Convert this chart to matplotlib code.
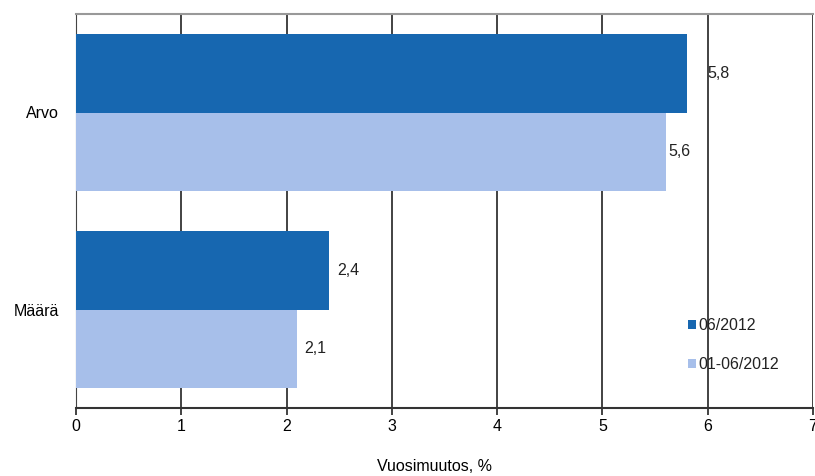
import matplotlib.pyplot as plt
import numpy as np

categories = ['Arvo', 'Määrä']
series_names = ['06/2012', '01-06/2012']
values_month = [5.8, 2.4]
values_period = [5.6, 2.1]
value_labels_month = ['5,8', '2,4']
value_labels_period = ['5,6', '2,1']
x_ticks = [0, 1, 2, 3, 4, 5, 6, 7]

dark = '#1767b0'
light = '#a7bfea'
fs = 11.5

plt.rcParams['font.family'] = ['Liberation Sans', 'DejaVu Sans']

fig = plt.figure(figsize=(8.15, 4.76), dpi=100)
ax = fig.add_axes([76 / 815, 1 - 408 / 476, (813 - 76) / 815, (408 - 14) / 476])

y = np.arange(len(categories))
h = 0.4
b1 = ax.barh(y - h / 2, values_month, height=h, color=dark, label=series_names[0], zorder=3)
b2 = ax.barh(y + h / 2, values_period, height=h, color=light, label=series_names[1], zorder=3)

# label offsets in pixels, nudged like the original
for bars, labels, offs in [(b1, value_labels_month, [21, 9]), (b2, value_labels_period, [3, 7])]:
    for bar, lab, o in zip(bars, labels, offs):
        ax.annotate(lab, (bar.get_width(), bar.get_y() + bar.get_height() / 2),
                    xytext=(o * 0.72, 0), textcoords='offset points',
                    va='center', ha='left', fontsize=fs, color='#222222', zorder=4)

ax.set_xlim(0, 7)
ax.set_ylim(len(categories) - 0.5, -0.5)
ax.set_xticks(x_ticks)
ax.set_yticks(y)
ax.set_yticklabels(categories, fontsize=fs)
ax.tick_params(axis='y', length=0, pad=12)
ax.tick_params(axis='x', length=5, width=1.2, color='#222222', labelsize=fs, pad=3)
ax.grid(axis='x', color='#222222', linewidth=1.2, zorder=1)

ax.spines['right'].set_visible(False)
ax.spines['top'].set_color('#999999')
ax.spines['top'].set_linewidth(1.5)
ax.spines['left'].set_color('#444444')
ax.spines['bottom'].set_color('#333333')
ax.spines['bottom'].set_linewidth(1.5)

ax.set_xlabel('Vuosimuutos, %', fontsize=fs)
ax.xaxis.set_label_coords(0.486, -0.13)

leg = ax.legend(loc='lower left', bbox_to_anchor=(0.822, 0.075), frameon=False,
                fontsize=fs, handlelength=0.5, handleheight=0.5, handletextpad=0.15,
                labelspacing=1.5, borderaxespad=0)
for t in leg.get_texts():
    t.set_color('#222222')

fig.savefig('out.png', dpi=100)
